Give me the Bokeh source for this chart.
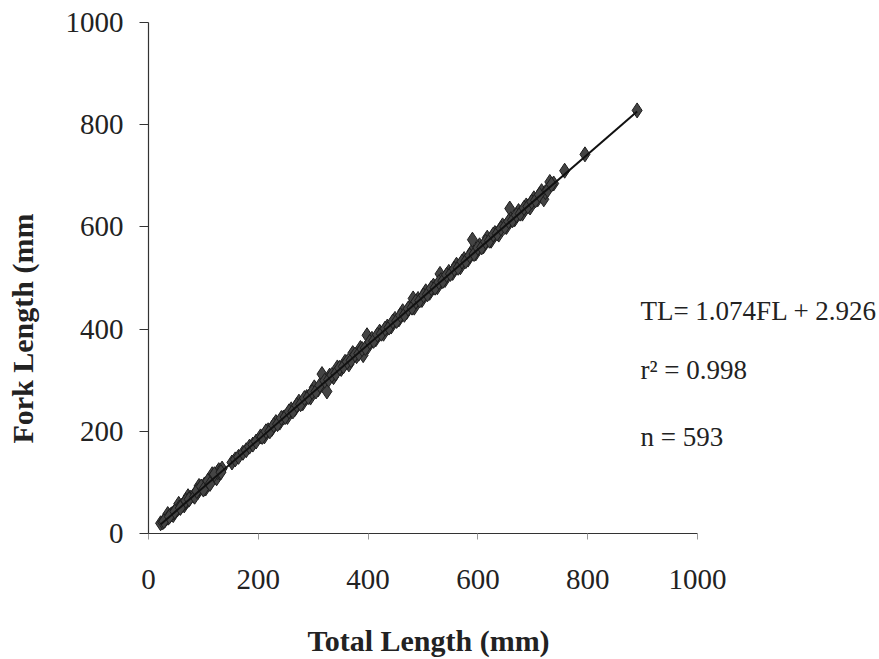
import math
from bokeh.plotting import figure
from bokeh.models import Range1d, Label, FixedTicker
from bokeh.embed import file_html
from bokeh.resources import INLINE

# ---- data ----
total_length = [
    22, 26, 30, 33, 35, 36, 40, 43, 45, 46, 50, 53, 55, 56, 60, 63, 65, 66, 70, 72, 73, 76,
    82, 86, 90, 92, 94, 98, 102, 104, 106, 110, 114, 116, 118, 122, 124, 126, 128, 130, 134,
    152, 158, 164, 172, 178, 184, 190, 196,
    204, 211, 218, 225, 232, 239, 246, 253, 260, 267, 274, 281, 288, 295, 302, 309, 316, 318,
    325, 330, 337, 344, 351, 358, 365, 372, 379, 386, 391, 398, 400, 407, 414, 421, 428, 435,
    442, 449, 456, 463, 470, 477, 482, 484, 491, 498, 505, 512, 519, 526, 531, 533, 540, 547,
    554, 561, 568, 575, 582, 589, 590, 596, 603, 610, 617, 624, 631, 638, 645, 652, 658, 660,
    667, 674, 681, 688, 695, 702, 709, 716, 720, 723, 731, 738, 758, 795, 890,
    28, 38, 48, 58, 68, 74, 84, 88, 96, 100, 108, 112, 120, 132,
    207, 214, 221, 228, 235, 242, 249, 256, 263, 270, 277, 284, 291, 298, 305, 312, 321, 328,
    334, 341, 348, 355, 362, 369, 376, 383, 389, 395, 403, 410, 417, 424, 431, 438, 445, 452,
    459, 466, 473, 480, 487, 494, 501, 508, 515, 522, 529, 536, 543, 550, 557, 564, 571, 578,
    585, 593, 600, 607, 614, 621, 628, 635, 642, 649, 656, 663, 670, 677, 684, 691, 698, 705,
    712, 727, 734,
]
fork_length = [
    20, 22, 26, 30, 38, 31, 36, 38, 36, 41, 45, 48, 58, 51, 54, 57, 55, 60, 64, 73, 66, 70,
    74, 80, 81, 93, 88, 89, 96, 88, 97, 104, 104, 116, 112, 111, 108, 120, 124, 119, 127,
    139, 145, 150, 158, 163, 170, 174, 180,
    190, 190, 202, 205, 218, 217, 227, 228, 243, 244, 258, 255, 267, 266, 286, 282, 312, 291,
    278, 309, 306, 325, 322, 336, 331, 353, 347, 363, 349, 388, 366, 381, 380, 395, 391, 405,
    405, 420, 419, 435, 433, 445, 460, 442, 459, 457, 474, 471, 485, 482, 508, 496, 496, 512,
    510, 526, 521, 537, 536, 552, 575, 548, 564, 562, 579, 573, 588, 585, 603, 600, 636, 615,
    615, 631, 626, 642, 638, 656, 654, 670, 654, 668, 688, 685, 710, 742, 828,
    24, 33, 43, 50, 64, 67, 72, 83, 92, 86, 103, 97, 116, 120,
    189, 200, 200, 212, 214, 226, 228, 239, 239, 251, 253, 265, 267, 277, 278, 290, 299, 301,
    310, 313, 324, 327, 336, 339, 350, 352, 361, 363, 375, 377, 389, 391, 401, 403, 415, 416,
    427, 428, 440, 442, 454, 456, 466, 468, 480, 481, 492, 494, 506, 508, 518, 520, 532, 533,
    544, 547, 559, 560, 571, 573, 585, 587, 597, 600, 611, 613, 623, 626, 637, 640, 649, 652,
    663, 672, 683,
]

# regression reported on the chart: TL = 1.074 FL + 2.926
slope = 1.074
intercept = 2.926
equation_text = "TL= 1.074FL + 2.926"
r2_text = "r\u00b2 = 0.998"
n_text = "n = 593"

x_ticks = [0, 200, 400, 600, 800, 1000]
y_ticks = [0, 200, 400, 600, 800, 1000]
x_title = "Total Length (mm)"
y_title = "Fork Length (mm"

SERIF = "Liberation Serif"
INK = "#222222"

# the plotting frame fills the whole canvas; the axes are pinned at 0 and limited to 0..1000
p = figure(
    width=879, height=659,
    output_backend="svg", toolbar_location=None,
    x_range=Range1d(-269.6, 1331.5), y_range=Range1d(-246.6, 1043.1),
    min_border=0,
)
p.background_fill_color = "white"
p.border_fill_color = "white"
p.outline_line_color = None
p.xgrid.grid_line_color = None
p.ygrid.grid_line_color = None

for ax, ticks in ((p.xaxis, x_ticks), (p.yaxis, y_ticks)):
    ax.ticker = FixedTicker(ticks=ticks)
    ax.bounds = (0, 1000)
    ax.fixed_location = 0
    ax.minor_tick_line_color = None
    ax.axis_line_color = "#333333"
    ax.axis_line_width = 1.2
    ax.major_tick_line_color = "#333333"
    ax.major_tick_in = 0
    ax.major_label_text_font = SERIF
    ax.major_label_text_font_size = "29px"
    ax.major_label_text_color = INK

p.yaxis.major_tick_out = 9
p.yaxis.major_label_standoff = 16
p.xaxis.major_tick_out = 6
p.xaxis.major_tick_line_color = "#999999"
p.xaxis.major_label_standoff = 31

# scatter points
p.scatter(total_length, fork_length, marker="diamond", size=15,
          fill_color="#444444", line_color="#1e1e1e", line_width=1)

# regression line
x0 = min(total_length)
x1 = max(total_length)
p.line([x0, x1], [(x0 - intercept) / slope, (x1 - intercept) / slope],
       line_color="#111111", line_width=2)

# axis titles
p.add_layout(Label(x=510, y=-209, text=x_title, text_font=SERIF, text_font_size="30px",
                   text_font_style="bold", text_color=INK,
                   text_align="center", text_baseline="middle"))
p.add_layout(Label(x=-229, y=401, text=y_title, text_font=SERIF, text_font_size="30px",
                   text_font_style="bold", text_color=INK, angle=math.pi / 2,
                   text_align="center", text_baseline="middle"))

# statistics annotation
for txt, yy in ((equation_text, 436), (r2_text, 319), (n_text, 188)):
    p.add_layout(Label(x=896, y=yy, text=txt, text_font=SERIF, text_font_size="27px",
                       text_color=INK, text_align="left", text_baseline="middle"))

open("out.html", "w").write(file_html(p, INLINE))
